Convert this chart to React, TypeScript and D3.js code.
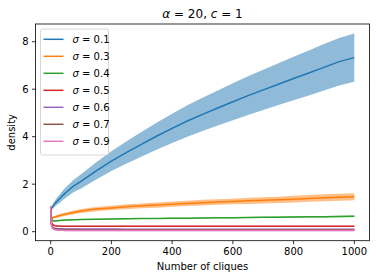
import React from "react";
import * as d3 from "d3";

const xs = [0, 2, 5, 10, 15, 20, 30, 40, 50, 75, 100, 150, 200, 250, 300, 350, 400, 450, 500, 550, 600, 650, 700, 750, 800, 850, 900, 950, 1000];

const mean01 = [0.85, 0.95, 1.03, 1.12, 1.2, 1.27, 1.4, 1.53, 1.65, 1.92, 2.12, 2.56, 2.97, 3.34, 3.69, 4.03, 4.35, 4.66, 4.94, 5.21, 5.47, 5.73, 5.97, 6.21, 6.45, 6.68, 6.92, 7.16, 7.33];
const sd01 = [0.03, 0.05, 0.08, 0.11, 0.13, 0.15, 0.18, 0.2, 0.22, 0.26, 0.3, 0.36, 0.42, 0.47, 0.52, 0.57, 0.62, 0.66, 0.7, 0.74, 0.78, 0.82, 0.85, 0.88, 0.92, 0.95, 0.98, 1.0, 1.02];

const mean03 = [1.02, 0.65, 0.58, 0.6, 0.62, 0.64, 0.68, 0.71, 0.74, 0.81, 0.87, 0.95, 1.0, 1.05, 1.09, 1.12, 1.16, 1.19, 1.22, 1.25, 1.27, 1.3, 1.32, 1.34, 1.37, 1.4, 1.43, 1.45, 1.47];
const sd03 = [0.02, 0.03, 0.04, 0.05, 0.05, 0.06, 0.06, 0.07, 0.07, 0.08, 0.08, 0.09, 0.09, 0.1, 0.1, 0.11, 0.11, 0.11, 0.12, 0.12, 0.12, 0.13, 0.13, 0.13, 0.14, 0.14, 0.15, 0.15, 0.15];

const mean04 = [1.05, 0.6, 0.48, 0.45, 0.45, 0.46, 0.47, 0.48, 0.49, 0.5, 0.51, 0.52, 0.53, 0.54, 0.55, 0.56, 0.57, 0.57, 0.58, 0.59, 0.59, 0.6, 0.61, 0.61, 0.62, 0.63, 0.63, 0.64, 0.65];
const sd04 = [0.01, 0.02, 0.02, 0.02, 0.02, 0.02, 0.02, 0.02, 0.02, 0.02, 0.02, 0.02, 0.02, 0.02, 0.02, 0.02, 0.02, 0.02, 0.02, 0.02, 0.02, 0.02, 0.02, 0.03, 0.03, 0.03, 0.03, 0.03, 0.03];

const mean05 = [1.05, 0.45, 0.32, 0.27, 0.25, 0.24, 0.24, 0.23, 0.23, 0.23, 0.23, 0.23, 0.23, 0.23, 0.23, 0.23, 0.23, 0.23, 0.23, 0.23, 0.23, 0.23, 0.23, 0.23, 0.23, 0.23, 0.23, 0.23, 0.23];
const sd05 = [0.01, 0.02, 0.02, 0.02, 0.02, 0.02, 0.02, 0.02, 0.02, 0.02, 0.02, 0.02, 0.02, 0.02, 0.02, 0.02, 0.02, 0.02, 0.02, 0.02, 0.02, 0.02, 0.02, 0.02, 0.02, 0.02, 0.02, 0.02, 0.02];

const mean06 = [1.05, 0.35, 0.22, 0.16, 0.14, 0.13, 0.12, 0.12, 0.11, 0.11, 0.11, 0.11, 0.11, 0.1, 0.1, 0.1, 0.1, 0.1, 0.1, 0.1, 0.1, 0.1, 0.1, 0.1, 0.1, 0.1, 0.1, 0.1, 0.1];
const sd06 = [0.01, 0.02, 0.02, 0.02, 0.02, 0.02, 0.02, 0.02, 0.02, 0.02, 0.02, 0.02, 0.02, 0.02, 0.02, 0.02, 0.02, 0.02, 0.02, 0.02, 0.02, 0.02, 0.02, 0.02, 0.02, 0.02, 0.02, 0.02, 0.02];

const mean07 = [1.05, 0.32, 0.2, 0.14, 0.12, 0.11, 0.1, 0.09, 0.09, 0.09, 0.08, 0.08, 0.08, 0.08, 0.08, 0.08, 0.08, 0.08, 0.08, 0.08, 0.08, 0.08, 0.08, 0.08, 0.08, 0.08, 0.08, 0.08, 0.08];
const sd07 = [0.01, 0.02, 0.02, 0.02, 0.02, 0.02, 0.02, 0.02, 0.02, 0.02, 0.02, 0.02, 0.02, 0.02, 0.02, 0.02, 0.02, 0.02, 0.02, 0.02, 0.02, 0.02, 0.02, 0.02, 0.02, 0.02, 0.02, 0.02, 0.02];

const mean09 = [1.05, 0.28, 0.16, 0.1, 0.08, 0.07, 0.06, 0.06, 0.05, 0.05, 0.05, 0.05, 0.05, 0.05, 0.05, 0.05, 0.05, 0.05, 0.05, 0.05, 0.05, 0.05, 0.05, 0.05, 0.05, 0.05, 0.05, 0.05, 0.05];
const sd09 = [0.01, 0.03, 0.03, 0.03, 0.03, 0.03, 0.03, 0.03, 0.03, 0.03, 0.03, 0.03, 0.03, 0.03, 0.03, 0.03, 0.03, 0.03, 0.03, 0.03, 0.03, 0.03, 0.03, 0.03, 0.03, 0.03, 0.03, 0.03, 0.03];

const sigmaLabels = ["0.1", "0.3", "0.4", "0.5", "0.6", "0.7", "0.9"];
const colors = ["#1f77b4", "#ff7f0e", "#2ca02c", "#d62728", "#9467bd", "#8c564b", "#e377c2"];
const means = [mean01, mean03, mean04, mean05, mean06, mean07, mean09];
const sds = [sd01, sd03, sd04, sd05, sd06, sd07, sd09];

const xTicks = [0, 200, 400, 600, 800, 1000];
const yTicks = [0, 2, 4, 6, 8];

const W = 380;
const H = 279;
const L = 35.5;
const R = 369.5;
const T = 24;
const B = 240.7;
const FONT = "DejaVu Sans, sans-serif";

export default function App() {
  const x = d3.scaleLinear().domain([-50, 1050]).range([L, R]);
  const y = d3.scaleLinear().domain([-0.38, 8.745]).range([B, T]);

  const line = d3
    .line<number>()
    .x((_, i) => x(xs[i]))
    .y((d) => y(d));

  const bands = means.map((m, k) =>
    d3
      .area<number>()
      .x((_, i) => x(xs[i]))
      .y0((d, i) => y(d - sds[k][i]))
      .y1((d, i) => y(d + sds[k][i]))(m)
  );

  const legendX = 40.5;
  const legendY = 29;
  const rowH = 17;

  return (
    <svg
      width={W}
      height={H}
      style={{ position: "absolute", left: 0, top: 0, background: "#fff" }}
      fontFamily={FONT}
    >
      <rect x={0} y={0} width={W} height={H} fill="#fff" />
      <defs>
        <clipPath id="plot">
          <rect x={L} y={T} width={R - L} height={B - T} />
        </clipPath>
      </defs>
      <g clipPath="url(#plot)">
        {means.map((m, k) => (
          <g key={k}>
            <path d={bands[k] || ""} fill={colors[k]} fillOpacity={0.5} stroke="none" />
            <path d={line(m) || ""} fill="none" stroke={colors[k]} strokeWidth={1.5} />
          </g>
        ))}
      </g>
      {/* spines */}
      <rect x={L} y={T} width={R - L} height={B - T} fill="none" stroke="#000" strokeWidth={0.8} />
      {/* x ticks */}
      {xTicks.map((t) => (
        <g key={"x" + t}>
          <line x1={x(t)} x2={x(t)} y1={B} y2={B + 3.5} stroke="#000" strokeWidth={0.8} />
          <text x={x(t)} y={B + 14.5} fontSize={10} textAnchor="middle" fill="#000">
            {t}
          </text>
        </g>
      ))}
      {/* y ticks */}
      {yTicks.map((t) => (
        <g key={"y" + t}>
          <line x1={L - 3.5} x2={L} y1={y(t)} y2={y(t)} stroke="#000" strokeWidth={0.8} />
          <text x={L - 7} y={y(t) + 3.6} fontSize={10} textAnchor="end" fill="#000">
            {t}
          </text>
        </g>
      ))}
      {/* labels */}
      <text x={(L + R) / 2} y={270} fontSize={10} textAnchor="middle" fill="#000">
        Number of cliques
      </text>
      <text
        transform={`translate(15,${(T + B) / 2}) rotate(-90)`}
        fontSize={10}
        textAnchor="middle"
        fill="#000"
      >
        density
      </text>
      <text x={(L + R) / 2} y={18} fontSize={12} textAnchor="middle" fill="#000">
        <tspan fontStyle="italic">α</tspan>
        <tspan> = 20, </tspan>
        <tspan fontStyle="italic">c</tspan>
        <tspan> = 1</tspan>
      </text>
      {/* legend */}
      <rect
        x={legendX}
        y={legendY}
        width={68}
        height={126}
        rx={2}
        fill="#fff"
        fillOpacity={0.8}
        stroke="#cccccc"
        strokeWidth={0.8}
      />
      {sigmaLabels.map((s, k) => {
        const cy = 39.3 + k * rowH;
        return (
          <g key={"l" + k}>
            <line x1={43.5} x2={63.5} y1={cy} y2={cy} stroke={colors[k]} strokeWidth={1.5} />
            <text x={72.5} y={cy + 3.6} fontSize={10} fill="#000">
              <tspan fontStyle="italic">σ</tspan>
              <tspan> = {s}</tspan>
            </text>
          </g>
        );
      })}
    </svg>
  );
}
